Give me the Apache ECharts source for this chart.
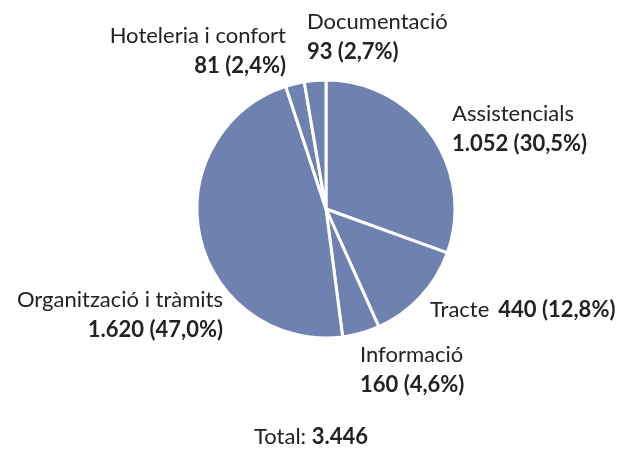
<!DOCTYPE html>
<html><head><meta charset="utf-8">
<script src="https://cdn.jsdelivr.net/npm/echarts@6/dist/echarts.min.js"></script>
<style>html,body{margin:0;padding:0;background:#fff}#c{width:622px;height:450px}</style>
</head><body><div id="c"></div>
<script>
const categories = ['Assistencials','Tracte','Informació','Organització i tràmits','Hoteleria i confort','Documentació'];
const values = [1052, 440, 160, 1620, 81, 93];
const total = values.reduce((a,b)=>a+b,0);

function fmtNum(n){ return String(n).replace(/\B(?=(\d{3})+(?!\d))/g,'.'); }
function fmtPct(v){ return (v/total*100).toFixed(1).replace('.',','); }

// label placement (layout only)
const labelPos = [
  {x:452, y:99,  align:'left'},
  {x:430, y:295, align:'left'},
  {x:360, y:340, align:'left'},
  {x:223, y:285, align:'right'},
  {x:286, y:21,  align:'right'},
  {x:307, y:7,   align:'left'}
];

const chart = echarts.init(document.getElementById('c'));
chart.setOption({
  animation:false,
  textStyle:{fontFamily:'Lato'},
  title:{
    text:'{n|Total: }{v|'+fmtNum(total)+'}',
    left:'center', top:421,
    textStyle:{fontWeight:'normal',rich:{
      n:{fontFamily:'Lato',fontSize:22,fontWeight:'normal',color:'#222'},
      v:{fontFamily:'Lato',fontSize:22,fontWeight:'bold',color:'#222'}
    }}
  },
  series:[{
    type:'pie',
    center:[326,209],
    radius:129,
    startAngle:90,
    clockwise:true,
    itemStyle:{color:'#6f81b1',borderColor:'#fff',borderWidth:3},
    labelLine:{show:false},
    label:{
      show:true,
      position:'outside',
      overflow:'none',
      formatter:function(p){
        const v = fmtNum(p.value)+' ('+fmtPct(p.value)+'%)';
        if(p.dataIndex===1) return '{n|'+p.name+'}{s| }{v|'+v+'}';
        return '{n|'+p.name+'}\n{v|'+v+'}';
      },
      rich:{
        n:{fontFamily:'Lato',fontSize:22,color:'#222',lineHeight:30},
        s:{fontFamily:'Lato',fontSize:22,color:'#222',lineHeight:30,width:9},
        v:{fontFamily:'Lato',fontSize:22,fontWeight:'bold',color:'#222',lineHeight:30}
      }
    },
    labelLayout:function(params){
      const p = labelPos[params.dataIndex];
      return {x:p.x,y:p.y,align:p.align,verticalAlign:'top'};
    },
    data:categories.map((c,i)=>({name:c,value:values[i]}))
  }]
});
</script></body></html>
